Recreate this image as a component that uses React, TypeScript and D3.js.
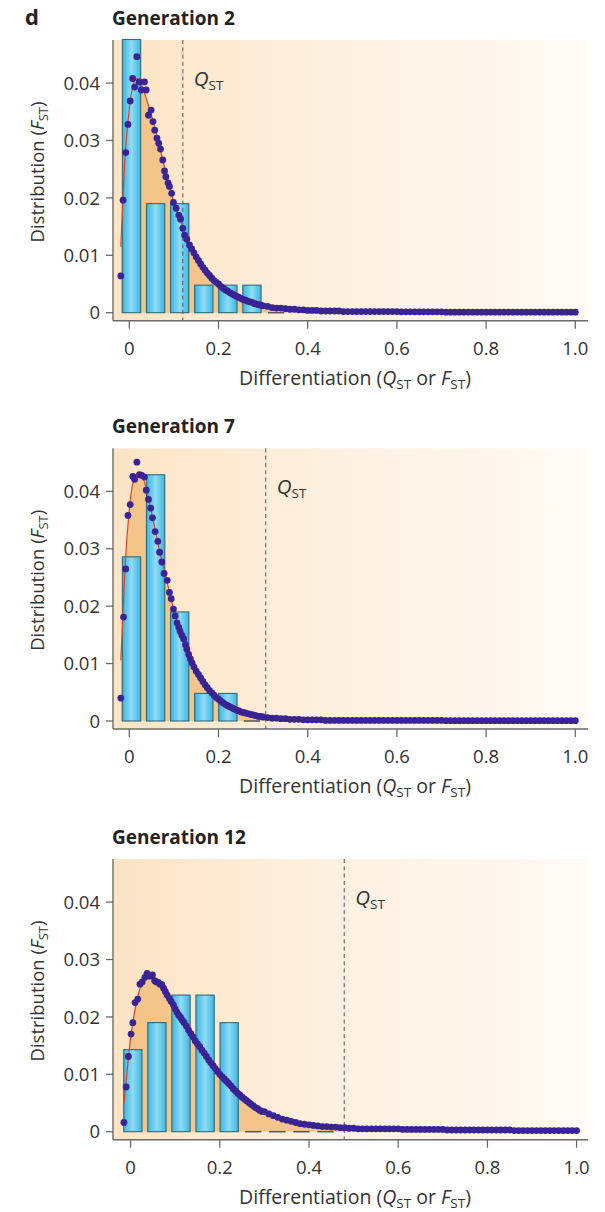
import React from "react";
import * as d3 from "d3";

// ---------------- data ----------------
const panelTitles = ["Generation 2", "Generation 7", "Generation 12"];
const qstValues = [0.12, 0.306, 0.479];

const xTicks = [0, 0.2, 0.4, 0.6, 0.8, 1.0];
const xTickLabels = ["0", "0.2", "0.4", "0.6", "0.8", "1.0"];
const yTicks = [0, 0.01, 0.02, 0.03, 0.04];
const yTickLabels = ["0", "0.01", "0.02", "0.03", "0.04"];

// histogram bin centres (F_ST) and bar heights per generation
const binCenters = [0.005, 0.059, 0.113, 0.167, 0.221, 0.275, 0.329, 0.383, 0.437];
const gen2Bars = [0.0476, 0.019, 0.019, 0.0048, 0.0048, 0.0048, 0];
const gen7Bars = [0.0286, 0.0429, 0.019, 0.0048, 0.0048, 0];
const gen12Bars = [0.0143, 0.019, 0.0238, 0.0238, 0.019, 0, 0, 0, 0];

// simulated distribution dots, steep part [x, y]
const gen2Dots = [
  [-0.019, 0.0064], [-0.014, 0.0196], [-0.008, 0.0279], [-0.003, 0.0328], [0.002, 0.0369],
  [0.0075, 0.0408], [0.012, 0.0393], [0.017, 0.0446], [0.022, 0.0402], [0.027, 0.0388],
  [0.034, 0.0402], [0.038, 0.0388], [0.043, 0.0344], [0.049, 0.0353], [0.053, 0.0333],
  [0.057, 0.0318], [0.062, 0.0304], [0.066, 0.0295], [0.07, 0.0285], [0.075, 0.0266],
  [0.079, 0.0247], [0.082, 0.0237], [0.087, 0.0226], [0.09, 0.022], [0.095, 0.0208],
  [0.099, 0.0192], [0.105, 0.0182], [0.111, 0.017], [0.115, 0.0163], [0.12, 0.0147],
  [0.124, 0.0135], [0.129, 0.0128], [0.135, 0.0118], [0.14, 0.0111], [0.145, 0.0104],
  [0.15, 0.0097], [0.155, 0.0091], [0.16, 0.0085], [0.165, 0.0079], [0.17, 0.0074],
  [0.175, 0.0069], [0.18, 0.0065], [0.185, 0.006], [0.19, 0.0056], [0.195, 0.0053],
  [0.2, 0.005], [0.205, 0.0046], [0.21, 0.0043], [0.215, 0.004], [0.22, 0.0038],
  [0.225, 0.0035], [0.23, 0.0033], [0.235, 0.0031], [0.24, 0.0029], [0.245, 0.0027],
  [0.25, 0.0025], [0.255, 0.0023], [0.26, 0.0022], [0.265, 0.002], [0.27, 0.0019],
  [0.275, 0.0018], [0.28, 0.0016], [0.285, 0.0015], [0.29, 0.0014], [0.295, 0.0013],
];
const gen7Dots = [
  [-0.019, 0.004], [-0.013, 0.0181], [-0.008, 0.0265], [-0.003, 0.0358], [0.002, 0.0377],
  [0.008, 0.0426], [0.012, 0.0421], [0.017, 0.0451], [0.023, 0.0429], [0.028, 0.0428],
  [0.034, 0.0425], [0.038, 0.0402], [0.043, 0.0386], [0.048, 0.0371], [0.052, 0.0354],
  [0.058, 0.033], [0.064, 0.0313], [0.068, 0.0294], [0.073, 0.0277], [0.078, 0.0257],
  [0.085, 0.0245], [0.09, 0.0224], [0.094, 0.0213], [0.099, 0.0195], [0.103, 0.0183],
  [0.107, 0.0171], [0.111, 0.0163], [0.114, 0.0156], [0.118, 0.0149], [0.122, 0.0143],
  [0.126, 0.0133], [0.129, 0.0125], [0.133, 0.0116], [0.137, 0.0108], [0.141, 0.0101],
  [0.145, 0.0094], [0.15, 0.0087], [0.155, 0.0081], [0.16, 0.0075], [0.165, 0.0069],
  [0.17, 0.0063], [0.175, 0.0058], [0.18, 0.0053], [0.185, 0.0049], [0.19, 0.0045],
  [0.195, 0.0041], [0.2, 0.0038], [0.205, 0.0035], [0.21, 0.0032], [0.215, 0.0029],
  [0.22, 0.0027], [0.225, 0.0025], [0.23, 0.0023], [0.235, 0.0021], [0.24, 0.0019],
  [0.245, 0.0018], [0.25, 0.0016], [0.255, 0.0015], [0.26, 0.0014], [0.265, 0.0013],
  [0.27, 0.0012], [0.275, 0.0011], [0.28, 0.001], [0.285, 0.0009], [0.29, 0.0008],
  [0.295, 0.0008],
];
const gen12Dots = [
  [-0.015, 0.0016], [-0.01, 0.0078], [-0.005, 0.0131], [0.001, 0.017], [0.005, 0.019],
  [0.01, 0.0225], [0.016, 0.0231], [0.021, 0.0257], [0.026, 0.0261], [0.032, 0.0269],
  [0.037, 0.0276], [0.043, 0.0271], [0.049, 0.0273], [0.054, 0.0263], [0.058, 0.0261],
  [0.062, 0.026], [0.066, 0.0257], [0.07, 0.0256], [0.074, 0.025], [0.078, 0.0244],
  [0.082, 0.0238], [0.087, 0.0232], [0.091, 0.0227], [0.096, 0.0221], [0.1, 0.0214],
  [0.104, 0.0208], [0.108, 0.0203], [0.112, 0.0199], [0.116, 0.0194], [0.12, 0.019],
  [0.125, 0.0184], [0.13, 0.0177], [0.135, 0.0171], [0.14, 0.0165], [0.145, 0.0158],
  [0.15, 0.0153], [0.155, 0.0148], [0.16, 0.0142], [0.165, 0.0137], [0.17, 0.0131],
  [0.175, 0.0125], [0.18, 0.012], [0.185, 0.0115], [0.19, 0.011], [0.195, 0.0105],
  [0.2, 0.01], [0.205, 0.0096], [0.21, 0.0092], [0.215, 0.0088], [0.22, 0.0084],
  [0.225, 0.008], [0.23, 0.0075], [0.235, 0.0071], [0.24, 0.0067], [0.245, 0.0064],
  [0.25, 0.006], [0.255, 0.0057], [0.26, 0.0054], [0.265, 0.0051], [0.27, 0.0048],
  [0.275, 0.0045], [0.28, 0.0042], [0.285, 0.004], [0.29, 0.0037], [0.295, 0.0035],
];

// flat tail of the dot series
const tailX = [
  0.30, 0.31, 0.32, 0.33, 0.34, 0.35, 0.36, 0.37, 0.38, 0.39, 0.40, 0.41, 0.42, 0.43, 0.44,
  0.45, 0.46, 0.47, 0.48, 0.49, 0.50, 0.51, 0.52, 0.53, 0.54, 0.55, 0.56, 0.57, 0.58, 0.59,
  0.60, 0.61, 0.62, 0.63, 0.64, 0.65, 0.66, 0.67, 0.68, 0.69, 0.70, 0.71, 0.72, 0.73, 0.74,
  0.75, 0.76, 0.77, 0.78, 0.79, 0.80, 0.81, 0.82, 0.83, 0.84, 0.85, 0.86, 0.87, 0.88, 0.89,
  0.90, 0.91, 0.92, 0.93, 0.94, 0.95, 0.96, 0.97, 0.98, 0.99, 1.00,
];
const gen2Tail = [
  0.0012, 0.0011, 0.0009, 0.0008, 0.0008, 0.0007, 0.0006, 0.0006, 0.0005, 0.0005, 0.0004,
  0.0004, 0.0004, 0.0003, 0.0003, 0.0003, 0.0003, 0.0003, 0.0002, 0.0002, 0.0002,
  0.0002, 0.0002, 0.0002, 0.0002, 0.0002, 0.0002, 0.0002, 0.0002, 0.0002, 0.0002,
  0.00015, 0.00015, 0.00015, 0.00015, 0.00015, 0.00015, 0.00015, 0.00015, 0.00015, 0.00015,
  0.0001, 0.0001, 0.0001, 0.0001, 0.0001, 0.0001, 0.0001, 0.0001, 0.0001, 0.0001,
  0.0001, 0.0001, 0.0001, 0.0001, 0.0001, 0.0001, 0.0001, 0.0001, 0.0001, 0.0001,
  0.0001, 0.0001, 0.0001, 0.0001, 0.0001, 0.0001, 0.0001, 0.0001, 0.0001, 0.0001,
];
const gen7Tail = [
  0.0007, 0.0006, 0.0005, 0.0005, 0.0004, 0.0004, 0.0003, 0.0003, 0.0003, 0.0002, 0.0002,
  0.0002, 0.0002, 0.0002, 0.0001, 0.0001, 0.0001, 0.0001, 0.0001, 0.0001, 0.0001,
  0.0001, 0.0001, 0.0001, 0.0001, 0.0001, 0.0001, 0.0001, 0.0001, 0.0001, 0.0001,
  0.0001, 0.0001, 0.0001, 0.0001, 0.0001, 0.0001, 0.0001, 0.0001, 0.0001, 0.0001,
  0.00005, 0.00005, 0.00005, 0.00005, 0.00005, 0.00005, 0.00005, 0.00005, 0.00005, 0.00005,
  0.00005, 0.00005, 0.00005, 0.00005, 0.00005, 0.00005, 0.00005, 0.00005, 0.00005, 0.00005,
  0.00005, 0.00005, 0.00005, 0.00005, 0.00005, 0.00005, 0.00005, 0.00005, 0.00005, 0.00005,
];
const gen12Tail = [
  0.0035, 0.0031, 0.0028, 0.0025, 0.0022, 0.002, 0.0018, 0.0016, 0.0014, 0.0013, 0.0012,
  0.0011, 0.001, 0.0009, 0.0009, 0.0008, 0.0008, 0.0007, 0.0007, 0.0006, 0.0006,
  0.0005, 0.0005, 0.0005, 0.0005, 0.0005, 0.0005, 0.0005, 0.0005, 0.0005, 0.0005,
  0.0004, 0.0004, 0.0004, 0.0004, 0.0004, 0.0004, 0.0004, 0.0004, 0.0004, 0.0004,
  0.0003, 0.0003, 0.0003, 0.0003, 0.0003, 0.0003, 0.0003, 0.0003, 0.0003, 0.0003,
  0.0003, 0.0003, 0.0003, 0.0003, 0.0003, 0.0002, 0.0002, 0.0002, 0.0002, 0.0002,
  0.0002, 0.0002, 0.0002, 0.0002, 0.0002, 0.0002, 0.0002, 0.0002, 0.0002, 0.0002,
];

// fitted curve (red line + shaded area)
const gen2Fit = [
  [-0.019, 0.0115], [-0.01, 0.0265], [0, 0.0355], [0.01, 0.04], [0.018, 0.0408], [0.03, 0.0392],
  [0.04, 0.0368], [0.05, 0.0343], [0.06, 0.0313], [0.07, 0.0283], [0.08, 0.025], [0.09, 0.022],
  [0.1, 0.0192], [0.11, 0.017], [0.12, 0.0149], [0.13, 0.0128], [0.14, 0.0111], [0.16, 0.0085],
  [0.18, 0.0065], [0.2, 0.005], [0.22, 0.0038], [0.25, 0.0025], [0.28, 0.0016], [0.32, 0.0009],
  [0.36, 0.0006], [0.4, 0.0004], [0.5, 0.0002], [0.7, 0.0001], [1.0, 0.0001],
];
const gen7Fit = [
  [-0.019, 0.0106], [-0.01, 0.026], [0, 0.0368], [0.01, 0.042], [0.02, 0.0432], [0.03, 0.0425],
  [0.04, 0.0398], [0.05, 0.0363], [0.06, 0.0325], [0.07, 0.0289], [0.08, 0.0257], [0.09, 0.0225],
  [0.1, 0.0193], [0.11, 0.0165], [0.12, 0.0146], [0.13, 0.0124], [0.14, 0.0104], [0.16, 0.0075],
  [0.18, 0.0053], [0.2, 0.0038], [0.22, 0.0027], [0.25, 0.0016], [0.28, 0.001], [0.32, 0.0005],
  [0.4, 0.0002], [0.6, 0.0001], [1.0, 0.0001],
];
const gen12Fit = [
  [-0.015, 0.0049], [-0.01, 0.0088], [-0.005, 0.0128], [0, 0.0163], [0.01, 0.0213], [0.02, 0.0247],
  [0.03, 0.0267], [0.04, 0.0274], [0.05, 0.027], [0.06, 0.0262], [0.07, 0.0253], [0.08, 0.0242],
  [0.09, 0.0229], [0.1, 0.0215], [0.12, 0.019], [0.14, 0.0165], [0.16, 0.0142], [0.18, 0.012],
  [0.2, 0.01], [0.22, 0.0084], [0.25, 0.006], [0.28, 0.0042], [0.31, 0.0031], [0.35, 0.002],
  [0.4, 0.0012], [0.45, 0.0008], [0.5, 0.0006], [0.6, 0.0005], [0.8, 0.0003], [1.0, 0.0002],
];

const panelBars = [gen2Bars, gen7Bars, gen12Bars];
const panelDots = [gen2Dots, gen7Dots, gen12Dots];
const panelTails = [gen2Tail, gen7Tail, gen12Tail];
const panelFits = [gen2Fit, gen7Fit, gen12Fit];

// ---------------- layout ----------------
const W = 605;
const H = 1212;
const zeroYs = [312.7, 721, 1131.7];
const xShifts = [0, 0, 1.3];
const FONT = "'Open Sans', 'DejaVu Sans', sans-serif";
const TEXT = "#333";
const AXIS = "#6b6b6b";
const DOT = "#3a2394";

function Panel({ idx }: { idx: number }) {
  const zero = zeroYs[idx];
  const sh = xShifts[idx];
  const x = d3.scaleLinear().domain([0, 1]).range([129.3 + sh, 575.3 + sh]);
  const y = d3.scaleLinear().domain([0, 0.04]).range([zero, zero - 229.6]);
  const top = zero - 272.7;
  const axisY = zero + 8;
  const left = 113;
  const right = 588;
  const bw = x(0.041) - x(0);

  const fit = panelFits[idx];
  const area = d3
    .area<number[]>()
    .x((d) => x(d[0]))
    .y0(y(0))
    .y1((d) => y(d[1]))
    .curve(d3.curveMonotoneX)(fit as any);
  const line = d3
    .line<number[]>()
    .x((d) => x(d[0]))
    .y((d) => y(d[1]))
    .curve(d3.curveMonotoneX)(fit as any);

  const dots = [
    ...panelDots[idx],
    ...tailX.map((tx, i) => [tx, panelTails[idx][i]]),
  ];
  const q = qstValues[idx];

  return (
    <g>
      <text x={112} y={top - 15} fontFamily={FONT} fontWeight={700} fontSize={19} fill="#222">
        {panelTitles[idx]}
      </text>
      <rect x={left} y={top} width={right - left} height={axisY - top} fill="url(#bgGrad)" />
      <path d={area || ""} fill="#f4c58a" />
      {panelBars[idx].map((v, i) => {
        const cx = x(binCenters[i]);
        if (v === 0) {
          return (
            <line key={i} x1={cx - bw / 2 + 1} x2={cx + bw / 2 - 1} y1={y(0)} y2={y(0)} stroke="#555" strokeWidth={1.5} />
          );
        }
        return (
          <rect
            key={i}
            x={cx - bw / 2}
            y={y(v)}
            width={bw}
            height={y(0) - y(v)}
            fill="url(#barGrad)"
            stroke="#2f6b78"
            strokeWidth={1.1}
          />
        );
      })}
      <line x1={x(q)} x2={x(q)} y1={top} y2={axisY} stroke="#555" strokeWidth={1} strokeDasharray="4,3.3" />
      <text x={x(q) + 11} y={top + 46} fontFamily={FONT} fontSize={20.5} fill={TEXT}>
        <tspan fontStyle="italic">Q</tspan>
        <tspan fontSize={13.5} dy={4}>ST</tspan>
      </text>
      <path d={line || ""} fill="none" stroke="#e0412c" strokeWidth={1.2} />
      {dots.map((d, i) => (
        <circle key={i} cx={x(d[0])} cy={y(d[1])} r={3.4} fill={DOT} />
      ))}
      {/* axes */}
      <line x1={left} x2={left} y1={top} y2={axisY} stroke={AXIS} strokeWidth={1.4} />
      <line x1={left} x2={right} y1={axisY} y2={axisY} stroke={AXIS} strokeWidth={1.4} />
      {yTicks.map((t, i) => (
        <g key={"y" + i}>
          <line x1={left - 7} x2={left} y1={y(t)} y2={y(t)} stroke={AXIS} strokeWidth={1.3} />
          <text x={100} y={y(t)} dy="0.36em" textAnchor="end" fontFamily={FONT} fontSize={18.5} fill={TEXT}>
            {yTickLabels[i]}
          </text>
        </g>
      ))}
      {xTicks.map((t, i) => (
        <g key={"x" + i}>
          <line x1={x(t)} x2={x(t)} y1={axisY} y2={axisY + 8} stroke={AXIS} strokeWidth={1.3} />
          <text x={x(t)} y={axisY + 34} textAnchor="middle" fontFamily={FONT} fontSize={18.5} fill={TEXT}>
            {xTickLabels[i]}
          </text>
        </g>
      ))}
      <text x={355} y={axisY + 64} textAnchor="middle" fontFamily={FONT} fontSize={19.5} fill={TEXT}>
        Differentiation (<tspan fontStyle="italic">Q</tspan>
        <tspan fontSize={13.5} dy={4}>ST</tspan>
        <tspan dy={-4}> or </tspan>
        <tspan fontStyle="italic">F</tspan>
        <tspan fontSize={13.5} dy={4}>ST</tspan>
        <tspan dy={-4}>)</tspan>
      </text>
      <text
        transform={`translate(44,${top + 132}) rotate(-90)`}
        textAnchor="middle"
        fontFamily={FONT}
        fontSize={18.5}
        fill={TEXT}
      >
        Distribution (<tspan fontStyle="italic">F</tspan>
        <tspan fontSize={13} dy={4}>ST</tspan>
        <tspan dy={-4}>)</tspan>
      </text>
    </g>
  );
}

export default function App() {
  return (
    <svg
      width={W}
      height={H}
      viewBox={`0 0 ${W} ${H}`}
      style={{ position: "absolute", left: 0, top: 0, background: "#fff" }}
    >
      <defs>
        <linearGradient id="bgGrad" x1="0" y1="0" x2="1" y2="0">
          <stop offset="0" stopColor="#fce4c5" />
          <stop offset="0.45" stopColor="#fdf0e0" />
          <stop offset="1" stopColor="#fffaf5" />
        </linearGradient>
        <linearGradient id="barGrad" x1="0" y1="0" x2="1" y2="0">
          <stop offset="0" stopColor="#3db5e0" />
          <stop offset="0.5" stopColor="#8fdcf5" />
          <stop offset="1" stopColor="#3db5e0" />
        </linearGradient>
      </defs>
      <text x={25} y={25} fontFamily={FONT} fontWeight={700} fontSize={22} fill="#222">
        d
      </text>
      {[0, 1, 2].map((i) => (
        <Panel key={i} idx={i} />
      ))}
    </svg>
  );
}
